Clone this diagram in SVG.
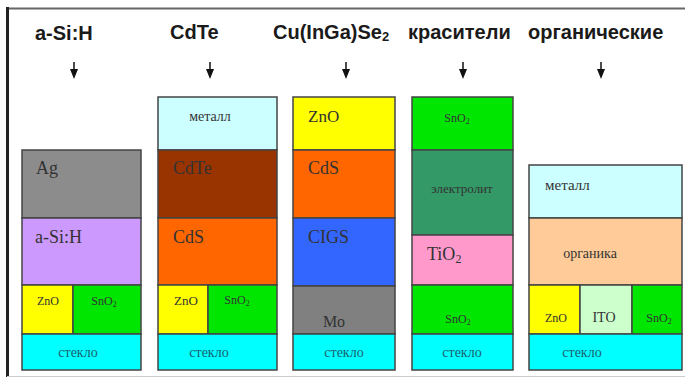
<svg xmlns="http://www.w3.org/2000/svg" width="685" height="384" viewBox="0 0 685 384">
<style>
.t{font-family:"Liberation Sans",Arial,sans-serif;font-weight:bold;font-size:20px;fill:#1a1a1a}
.l{stroke:#444;stroke-width:1.5}
.s{font-family:"Liberation Serif","Times New Roman",serif;fill:#333}
.big{font-size:18px}
.mid{font-size:14px}
.sm{font-size:12px}
.gl{fill:#00ffff}
.gt{fill:#1b5f70}
.ar{stroke:#111;stroke-width:1.5;marker-end:url(#ah)}
</style>
<defs>
<marker id="ah" markerWidth="10" markerHeight="8" refX="1" refY="4" orient="auto" markerUnits="userSpaceOnUse">
<path d="M0,0 L10,4 L0,8 Z" fill="#111"/>
</marker>
</defs>
<rect x="0" y="0" width="685" height="384" fill="#fff"/>
<g id="frame">
<line x1="7" y1="8.5" x2="685" y2="8.5" stroke="#666" stroke-width="2"/>
<line x1="7.5" y1="7" x2="7.5" y2="377" stroke="#222" stroke-width="3"/>
<line x1="7" y1="376.5" x2="685" y2="376.5" stroke="#ccc" stroke-width="1"/>
</g>
<g id="titles">
<text class="t" x="35" y="40">a-Si:H</text>
<text class="t" x="170" y="39">CdTe</text>
<text class="t" x="273" y="39">Cu(InGa)Se<tspan font-size="13" dy="2">2</tspan></text>
<text class="t" x="408" y="39">красители</text>
<text class="t" x="528" y="39">органические</text>
</g>
<g id="connectors">
<line class="ar" x1="74" y1="62" x2="74" y2="70"/>
<line class="ar" x1="210" y1="62" x2="210" y2="70"/>
<line class="ar" x1="346" y1="62" x2="346" y2="70"/>
<line class="ar" x1="463" y1="62" x2="463" y2="70"/>
<line class="ar" x1="601" y1="62" x2="601" y2="70"/>
</g>
<g id="col-asi">
<rect class="l" x="22" y="150" width="119" height="68" fill="#8c8c8c"/>
<rect class="l" x="22" y="218" width="119" height="67" fill="#cc99ff"/>
<rect class="l" x="22" y="285" width="51" height="49" fill="#ffff00"/>
<rect class="l" x="73" y="285" width="68" height="49" fill="#00e600"/>
<rect class="l gl" x="22" y="334" width="119" height="36"/>
<text class="s big" x="36" y="174">Ag</text>
<text class="s big" x="35" y="243" fill="#3a2a5a">a-Si:H</text>
<text class="s sm" x="48" y="305" text-anchor="middle">ZnO</text>
<text class="s sm" x="104" y="305" text-anchor="middle">SnO<tspan font-size="8" dy="2">2</tspan></text>
<text class="s mid gt" x="78" y="357" text-anchor="middle">стекло</text>
</g>
<g id="col-cdte">
<rect class="l" x="158" y="97" width="119" height="53" fill="#ccffff"/>
<rect class="l" x="158" y="150" width="119" height="68" fill="#993300"/>
<rect class="l" x="158" y="218" width="119" height="67" fill="#ff6600"/>
<rect class="l" x="158" y="285" width="50" height="49" fill="#ffff00"/>
<rect class="l" x="208" y="285" width="69" height="49" fill="#00e600"/>
<rect class="l gl" x="158" y="334" width="119" height="36"/>
<text class="s mid" x="210" y="121" text-anchor="middle">металл</text>
<text class="s big" x="173" y="174" fill="#5c1a00">CdTe</text>
<text class="s big" x="173" y="243" fill="#7a2200">CdS</text>
<text class="s" font-size="13" x="186" y="305" text-anchor="middle">ZnO</text>
<text class="s sm" x="237" y="304" text-anchor="middle">SnO<tspan font-size="8" dy="2">2</tspan></text>
<text class="s mid gt" x="209" y="357" text-anchor="middle">стекло</text>
</g>
<g id="col-cigs">
<rect class="l" x="293" y="97" width="102" height="53" fill="#ffff00"/>
<rect class="l" x="293" y="150" width="102" height="68" fill="#ff6600"/>
<rect class="l" x="293" y="218" width="102" height="68" fill="#3366ff"/>
<rect class="l" x="293" y="286" width="102" height="48" fill="#808080"/>
<rect class="l gl" x="293" y="334" width="102" height="36"/>
<text class="s" font-size="17" x="308" y="122" fill="#333300">ZnO</text>
<text class="s big" x="308" y="174" fill="#8a2400">CdS</text>
<text class="s big" x="308" y="243" fill="#0a2a99">CIGS</text>
<text class="s" font-size="16" x="334" y="327" text-anchor="middle">Mo</text>
<text class="s mid gt" x="344" y="357" text-anchor="middle">стекло</text>
</g>
<g id="col-dye">
<rect class="l" x="412" y="97" width="101" height="53" fill="#00e600"/>
<rect class="l" x="412" y="150" width="101" height="85" fill="#339966"/>
<rect class="l" x="412" y="235" width="101" height="50" fill="#ff99cc"/>
<rect class="l" x="412" y="285" width="101" height="49" fill="#00e600"/>
<rect class="l gl" x="412" y="334" width="101" height="36"/>
<text class="s sm" x="457" y="122" text-anchor="middle">SnO<tspan font-size="8" dy="2">2</tspan></text>
<text class="s" font-size="13" x="462" y="193" text-anchor="middle" fill="#1a2a1a">электролит</text>
<text class="s big" x="427" y="260" fill="#3a1a2a">TiO<tspan font-size="12" dy="3">2</tspan></text>
<text class="s sm" x="458" y="323" text-anchor="middle">SnO<tspan font-size="8" dy="2">2</tspan></text>
<text class="s mid gt" x="462" y="357" text-anchor="middle">стекло</text>
</g>
<g id="col-org">
<rect class="l" x="529" y="165" width="153" height="53" fill="#ccffff"/>
<rect class="l" x="529" y="218" width="153" height="67" fill="#ffcc99"/>
<rect class="l" x="529" y="285" width="51" height="49" fill="#ffff00"/>
<rect class="l" x="580" y="285" width="52" height="49" fill="#ccffcc"/>
<rect class="l" x="632" y="285" width="50" height="49" fill="#00e600"/>
<rect class="l gl" x="529" y="334" width="153" height="36"/>
<text class="s" font-size="15" x="545" y="190">металл</text>
<text class="s mid" x="590" y="258" text-anchor="middle">органика</text>
<text class="s sm" x="556" y="322" text-anchor="middle">ZnO</text>
<text class="s mid" x="604" y="322" text-anchor="middle">ITO</text>
<text class="s sm" x="659" y="322" text-anchor="middle">SnO<tspan font-size="8" dy="2">2</tspan></text>
<text class="s mid gt" x="582" y="357" text-anchor="middle">стекло</text>
</g>
</svg>
